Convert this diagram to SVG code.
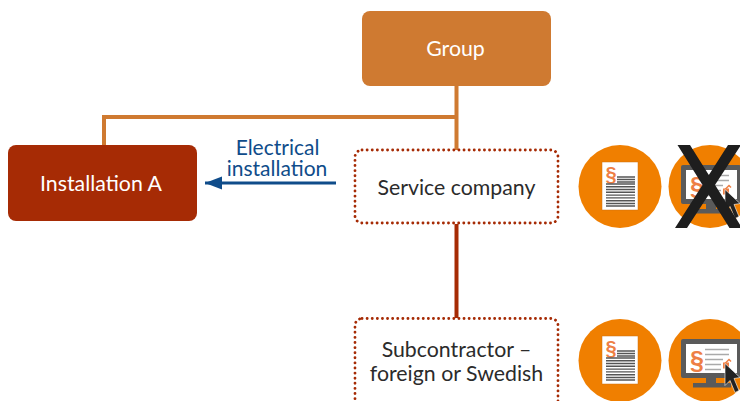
<svg xmlns="http://www.w3.org/2000/svg" width="740" height="401" viewBox="0 0 740 401">
<style>
text{font-family:Lato,"Open Sans","Liberation Sans",sans-serif;text-anchor:middle}
.w{fill:#fff;font-size:21.300px}
.d{fill:#2b2b2b;font-size:21.300px}
.b{fill:#0f4c8a;font-size:21px}
.dot{fill:#fff;stroke:#a62b05;stroke-width:2.800;stroke-dasharray:0.1 5;stroke-linecap:round}
.o{fill:none;stroke:#cf7a31;stroke-width:4}
.para{fill:#ee7f45;font-family:"Liberation Sans",sans-serif;font-weight:700;text-anchor:middle}
</style>
<defs>
<symbol id="doc" overflow="visible">
<circle cx="0" cy="0" r="41.500" fill="#f07f00"/>
<rect x="-18" y="-24.500" width="36" height="48" fill="#fff" stroke="#c96f10" stroke-width="0.500"/>
<text class="para" x="-9" y="-5.500" font-size="20">§</text>
<path d="M-3-9.500H15M-3-7H15M-3-4.500H15M-14-2.500H15M0 0M-14 .3H15M-14 3H15M-14 5.800H15M-14 8.600H15M-14 11.400H15M-14 14.200H15M-14 17H15M-14 19.500H15" stroke="#555" stroke-width="1.400" fill="none"/>
</symbol>
<symbol id="screen" overflow="visible">
<circle cx="0" cy="0" r="41.500" fill="#f07f00"/>
<rect x="-29" y="-21.500" width="60" height="39" fill="#5a5a5a" rx="2"/>
<rect x="-24" y="-16.500" width="51" height="29" fill="#fff"/>
<path d="M-4 17H6V23H-4ZM-17 22.500H21V27H-17Z" fill="#5a5a5a"/>
<text class="para" x="-13" y="8" font-size="25">§</text>
<path d="M-5-11H19M-5-6H19M-5-1H13M-5 4H11M-5 9H11" stroke="#aaa" stroke-width="1.300" fill="none"/>
<rect x="13" y="2" width="6" height="6" fill="#ee7f45"/>
<path d="M15 3 19-1 21 1" stroke="#ee7f45" stroke-width="1.500" fill="none"/>
<path d="M15 3 15 25 20 20 25 32 29 30 24 18 30 17Z" fill="#222" stroke="#fff" stroke-width="0.600"/>
</symbol>
<marker id="arr" markerUnits="userSpaceOnUse" markerWidth="18" markerHeight="14" refX="17" refY="7" orient="auto">
<path d="M0 7 17 0.500 17 13.500Z" transform="matrix(-1 0 0 1 17 0)" fill="#0f4c8a"/>
</marker>
</defs>
<g id="connectors">
<path class="o" d="M456.500 86V150M456.500 117H104V145"/>
<path d="M456.500 224V318" fill="none" stroke="#a62b05" stroke-width="4"/>
<path d="M336 183H205" fill="none" stroke="#0f4c8a" stroke-width="3" marker-end="url(#arr)"/>
<text class="b" x="277.500" y="155">Electrical</text>
<text class="b" x="277" y="176">installation</text>
</g>
<g id="group"><rect x="362" y="11" width="189" height="75" rx="8" fill="#cf7a31"/><text class="w" x="455.500" y="56">Group</text></g>
<g id="installation-a"><rect x="8" y="145" width="189" height="76" rx="8" fill="#a62b05"/><text class="w" x="101" y="191">Installation A</text></g>
<g id="service-company"><rect class="dot" x="355" y="150" width="203" height="73" rx="7"/><text class="d" x="456.500" y="194.500">Service company</text></g>
<g id="subcontractor"><rect class="dot" x="355" y="318.500" width="203" height="90" rx="7"/><text class="d" x="456.500" y="356.500">Subcontractor –</text><text class="d" x="456.500" y="381">foreign or Swedish</text></g>
<g id="icon-doc-1"><use href="#doc" x="620" y="186.500"/></g>
<g id="icon-screen-1"><use href="#screen" x="710" y="186.500"/><path d="M677.500 145H690L742 228H729.500ZM728 145H741L687 228H675Z" fill="#1e1e1e"/></g>
<g id="icon-doc-2"><use href="#doc" x="620" y="360.500"/></g>
<g id="icon-screen-2"><use href="#screen" x="710" y="360.500"/></g>
</svg>
